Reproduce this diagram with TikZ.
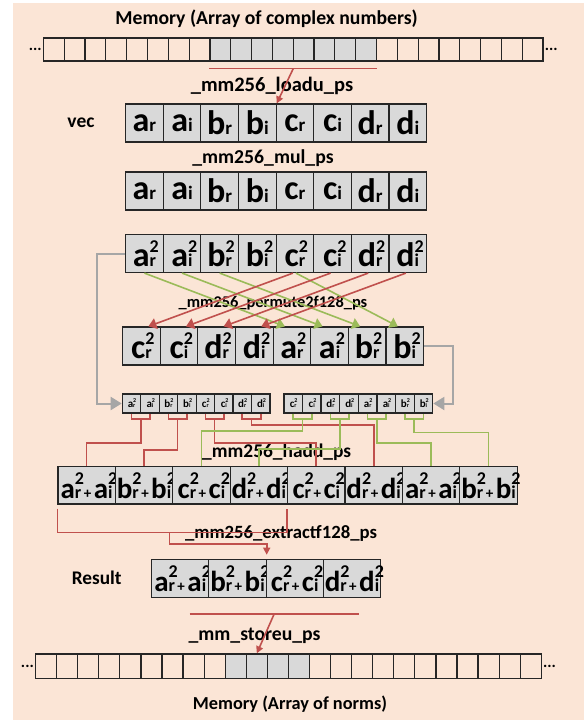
\documentclass[tikz,border=0pt]{standalone}
\usepackage{fontspec}
\setmainfont{Carlito}
\usetikzlibrary{arrows.meta,calc,positioning}

\definecolor{bgpeach}{HTML}{FBE5D6}
\definecolor{cellgray}{HTML}{D9D9D9}
\definecolor{redline}{HTML}{C0504D}
\definecolor{greenline}{HTML}{9BBB59}
\definecolor{arrowgray}{HTML}{A6A6A6}

% element labels: big letter, small index, optional square
\newcommand{\vecel}[2]{{\fontsize{34}{34}\selectfont #1}{\fontsize{19}{19}\selectfont #2}}
\newcommand{\sqel}[3][34]{{\fontsize{#1}{#1}\selectfont #2}{\fontsize{18}{18}\selectfont\rlap{\raisebox{14pt}{2}}#3}}
\newcommand{\sumel}[4]{\sqel[29]{#1}{#2}{\fontsize{15}{15}\selectfont\,+\,}\sqel[29]{#3}{#4}}
\newcommand{\minel}[2]{{\fontsize{11}{11}\selectfont #1}{\fontsize{6}{6}\selectfont\rlap{\raisebox{5pt}{2}}#2}}

\tikzset{
  boxline/.style={draw=black!85, line width=1.2pt, inner sep=0pt, anchor=west},
  mcell/.style={boxline, minimum width=20.82pt, minimum height=23pt},
  vcell/.style={boxline, fill=cellgray, minimum width=37.63pt, minimum height=38pt, font=\bfseries},
  scell/.style={boxline, fill=cellgray, minimum width=18.5pt, minimum height=19pt, font=\bfseries},
  hcell/.style={boxline, fill=cellgray, minimum width=57.4pt, minimum height=37.5pt, font=\bfseries},
  opname/.style={font=\fontsize{#1}{#1}\selectfont\bfseries, inner sep=0pt},
  opname/.default=19.5,
  dotlbl/.style={font=\fontsize{16}{16}\selectfont\bfseries, inner sep=1pt},
  redl/.style={draw=redline, line width=1.6pt},
  greenl/.style={draw=greenline, line width=1.6pt},
  grayl/.style={draw=arrowgray, line width=2pt, -{Triangle[width=13pt,length=11pt]}},
  fan/.style={-{Triangle[width=11pt,length=8pt]}}
}

\begin{document}
\begin{tikzpicture}[x=1pt,y=-1pt]
\useasboundingbox (0,0) rectangle (584,720);
\fill[bgpeach] (13,3) rectangle (584,720);

% memory of complex numbers
\node[opname=19.7] (title) at (266.6,19) {Memory (Array of complex numbers)};
\foreach \i in {1,...,8,17,18,...,24}
  \node[mcell] (mema-\i) at ({42.8+20.82*(\i-1)},49.5) {};
\foreach \i in {9,...,16}
  \node[mcell,fill=cellgray] (mema-\i) at ({42.8+20.82*(\i-1)},49.5) {};
\node[dotlbl,anchor=east] (dotsa-l) at (mema-1.west) {...};
\node[dotlbl,anchor=west] (dotsa-r) at (mema-24.east) {...};

\coordinate (ldl) at ($(mema-9.south west)+(0,7)$);
\coordinate (ldr) at ($(mema-16.south east)+(0,7)$);
\node[opname=20.5] (loadu) at (272,86) {\_mm256\_loadu\_ps};

% vec and its square
\node[opname=19.5] (veclbl) at (81,123) {vec};
\foreach \t [count=\i] in {{\vecel{a}{r}},{\vecel{a}{i}},{\vecel{b}{r}},{\vecel{b}{i}},{\vecel{c}{r}},{\vecel{c}{i}},{\vecel{d}{r}},{\vecel{d}{i}}}
  \node[vcell] (vec-\i) at ({125+37.63*(\i-1)},123) {\t};
\node[opname=19.7] (mul) at (263,158) {\_mm256\_mul\_ps};
\foreach \t [count=\i] in {{\vecel{a}{r}},{\vecel{a}{i}},{\vecel{b}{r}},{\vecel{b}{i}},{\vecel{c}{r}},{\vecel{c}{i}},{\vecel{d}{r}},{\vecel{d}{i}}}
  \node[vcell] (mul-\i) at ({125+37.63*(\i-1)},191) {\t};
\foreach \t [count=\i] in {{\sqel{a}{r}},{\sqel{a}{i}},{\sqel{b}{r}},{\sqel{b}{i}},{\sqel{c}{r}},{\sqel{c}{i}},{\sqel{d}{r}},{\sqel{d}{i}}}
  \node[vcell] (sq-\i) at ({125+37.63*(\i-1)},253.5) {\t};

% permuted halves
\node[opname=16.4] (permute) at (273,303) {\_mm256\_permute2f128\_ps};
\foreach \t [count=\i] in {{\sqel{c}{r}},{\sqel{c}{i}},{\sqel{d}{r}},{\sqel{d}{i}},{\sqel{a}{r}},{\sqel{a}{i}},{\sqel{b}{r}},{\sqel{b}{i}}}
  \node[vcell] (perm-\i) at ({122+37.63*(\i-1)},346) {\t};

% the two inputs of hadd
\foreach \t [count=\i] in {{\minel{a}{r}},{\minel{a}{i}},{\minel{b}{r}},{\minel{b}{i}},{\minel{c}{r}},{\minel{c}{i}},{\minel{d}{r}},{\minel{d}{i}}}
  \node[scell] (sl-\i) at ({121.7+18.45*(\i-1)},403.5) {\t};
\foreach \t [count=\i] in {{\minel{c}{r}},{\minel{c}{i}},{\minel{d}{r}},{\minel{d}{i}},{\minel{a}{r}},{\minel{a}{i}},{\minel{b}{r}},{\minel{b}{i}}}
  \node[scell] (sr-\i) at ({283.3+18.62*(\i-1)},403.5) {\t};

% horizontal add
\node[opname=19.4] (hadd) at (276.7,452) {\_mm256\_hadd\_ps};
\foreach \t [count=\i] in {{\sumel{a}{r}{a}{i}},{\sumel{b}{r}{b}{i}},{\sumel{c}{r}{c}{i}},{\sumel{d}{r}{d}{i}},{\sumel{c}{r}{c}{i}},{\sumel{d}{r}{d}{i}},{\sumel{a}{r}{a}{i}},{\sumel{b}{r}{b}{i}}}
  \node[hcell] (hadd-\i) at ({57.3+57.42*(\i-1)},485.3) {\t};

% result
\node[opname=18.7] (extract) at (281,533) {\_mm256\_extractf128\_ps};
\node[opname=19.3] (result) at (96.7,578) {Result};
\foreach \t [count=\i] in {{\sumel{a}{r}{a}{i}},{\sumel{b}{r}{b}{i}},{\sumel{c}{r}{c}{i}},{\sumel{d}{r}{d}{i}}}
  \node[hcell,minimum width=57.25pt,minimum height=38pt] (res-\i) at ({151+57.25*(\i-1)},578.3) {\t};

% memory of norms
\node[opname=19.7] (storeu) at (254.6,636) {\_mm\_storeu\_ps};
\foreach \i in {1,...,9,14,15,...,24}
  \node[mcell,minimum width=21.07pt,minimum height=24.4pt] (memb-\i) at ({35+21.07*(\i-1)},666.1) {};
\foreach \i in {10,...,13}
  \node[mcell,minimum width=21.07pt,minimum height=24.4pt,fill=cellgray] (memb-\i) at ({35+21.07*(\i-1)},666.1) {};
\node[dotlbl,anchor=east] (dotsb-l) at (memb-1.west) {...};
\node[dotlbl,anchor=west] (dotsb-r) at (memb-24.east) {...};
\node[opname=18.3] (normslbl) at (290,704) {Memory (Array of norms)};
\coordinate (stl) at (189.6,614);
\coordinate (str) at (358.7,614);

% load
\draw[redl] (ldl) -- (ldr);
\draw[redl,-{Triangle[width=7pt,length=7pt]}] ($(ldl)!0.5!(ldr)$) -- (vec-4.north east);

% permute
\foreach \s/\t in {1/5,2/6,3/7}
  \draw[greenl,fan] (sq-\s.south) -- ($(perm-\t.north)+(-7,0)$);
\draw[greenl,fan] ($(sq-5.south)+(1,0)$) -- ($(perm-8.north)+(-7,0)$);
\foreach \s/\t in {5/1,6/2,7/3,8/4}
  \draw[redl,fan] ($(sq-\s.south)+(-2,0)$) -- ($(perm-\t.north)+(7,0)$);

\draw[grayl] (sq-1.west) -- ++(-28.3,0) |- (sl-1.west);
\draw[grayl] (perm-8.east) -- ++(28.7,0) |- (sr-8.east);

% hadd pairs
\foreach \a/\b/\d/\h in {1/2/23.7/1,3/4/31/2,5/6/23.7/5,7/8/6/6}{
  \draw[redl] (sl-\a.south) -- ++(0,5.5) -| (sl-\b.south);
  \draw[redl] ($(sl-\a.south)!0.5!(sl-\b.south)+(0,5.5)$) -- ++(0,\d) -| (hadd-\h.north);
}
\foreach \a/\b/\d/\h in {1/2/11.7/3,3/4/30/4,5/6/23.7/7,7/8/13.3/8}{
  \draw[greenl] (sr-\a.south) -- ++(0,5.5) -| (sr-\b.south);
  \draw[greenl] ($(sr-\a.south)!0.5!(sr-\b.south)+(0,5.5)$) -- ++(0,\d) -| (hadd-\h.north);
}

% extract
\coordinate (exa) at ($(hadd-1.south west)+(0,4)$);
\coordinate (exb) at ($(hadd-5.south west)+(0,4)$);
\coordinate (exj) at ($(exa)+(112,23.7)$);
\draw[redl] (exa) -- ++(0,23.7) -| (exb);
\draw[redl,-{Triangle[width=7pt,length=7pt]}] (exj) -- ++(0,11.6) -| ($(res-2.north east)+(0,-4)$);

% store
\draw[redl] (stl) -- (str);
\draw[redl,-{Triangle[width=7pt,length=7pt]}] ($(stl)!0.5!(str)$) -- (memb-11.north);
\end{tikzpicture}
\end{document}
